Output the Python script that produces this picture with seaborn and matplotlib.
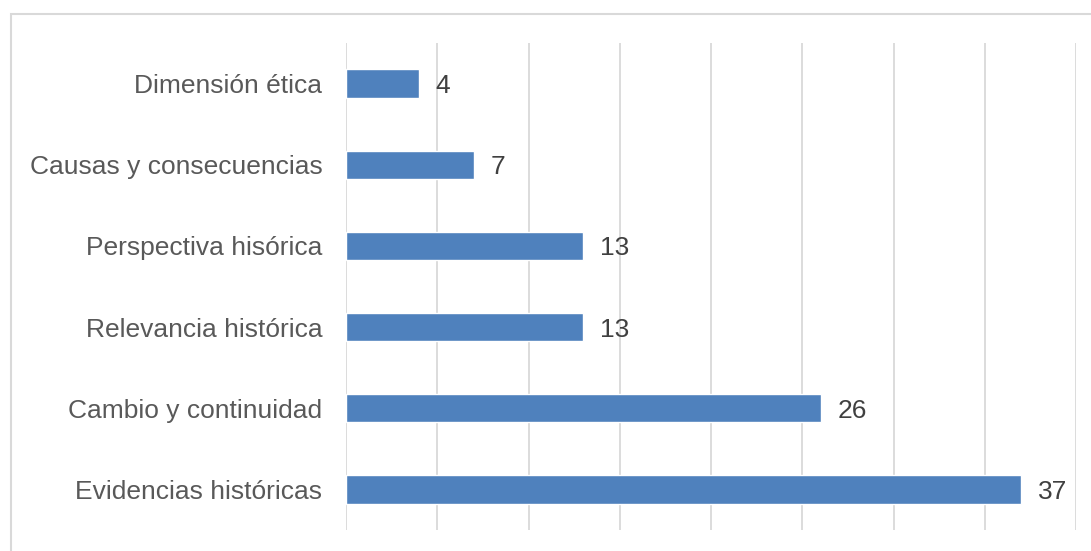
import matplotlib
matplotlib.use("Agg")
import matplotlib.pyplot as plt
import seaborn as sns
import pandas as pd
from matplotlib.patches import Rectangle

# data, top to bottom as in the chart
categories = ["Dimensión ética", "Causas y consecuencias", "Perspectiva hisórica",
              "Relevancia histórica", "Cambio y continuidad", "Evidencias históricas"]
counts = [4, 7, 13, 13, 26, 37]
x_ticks = [0, 5, 10, 15, 20, 25, 30, 35, 40]

df = pd.DataFrame({"Categoria": categories, "Cantidad": counts})

sns.set_theme(style="white")
plt.rcParams["font.family"] = ["Liberation Sans", "DejaVu Sans"]

fig = plt.figure(figsize=(10.91, 5.51), dpi=100)
ax = fig.add_axes([346 / 1091, 1 - 530 / 551, 730 / 1091, 487 / 551])

sns.barplot(data=df, y="Categoria", x="Cantidad", orient="h", color="#4f81bd",
            saturation=1, width=0.35, ax=ax)

ax.set_xlim(0, 40)
ax.set_ylim(5.5, -0.5)
ax.set_xticks(x_ticks)
ax.set_xticklabels([])
ax.tick_params(axis="both", length=0)
ax.tick_params(axis="y", labelsize=19, labelcolor="#595959", pad=17)
ax.set_xlabel("")
ax.set_ylabel("")
for s in ax.spines.values():
    s.set_visible(False)
ax.xaxis.grid(True, color="#d9d9d9", linewidth=1.3)
ax.yaxis.grid(False)
ax.set_axisbelow(True)

for c in ax.containers:
    labels = ax.bar_label(c, padding=12, fontsize=19, color="#404040")
    for t in labels:
        t.set_va("center_baseline")

# chart area border (only top and left are inside the image)
fig.patches.append(Rectangle((11 / 1091, -0.1), 1.2, (551 - 14) / 551 + 0.1,
                             transform=fig.transFigure, fill=False,
                             edgecolor="#d9d9d9", linewidth=1.5, zorder=0))

fig.savefig("out.png", dpi=100, facecolor="white")
